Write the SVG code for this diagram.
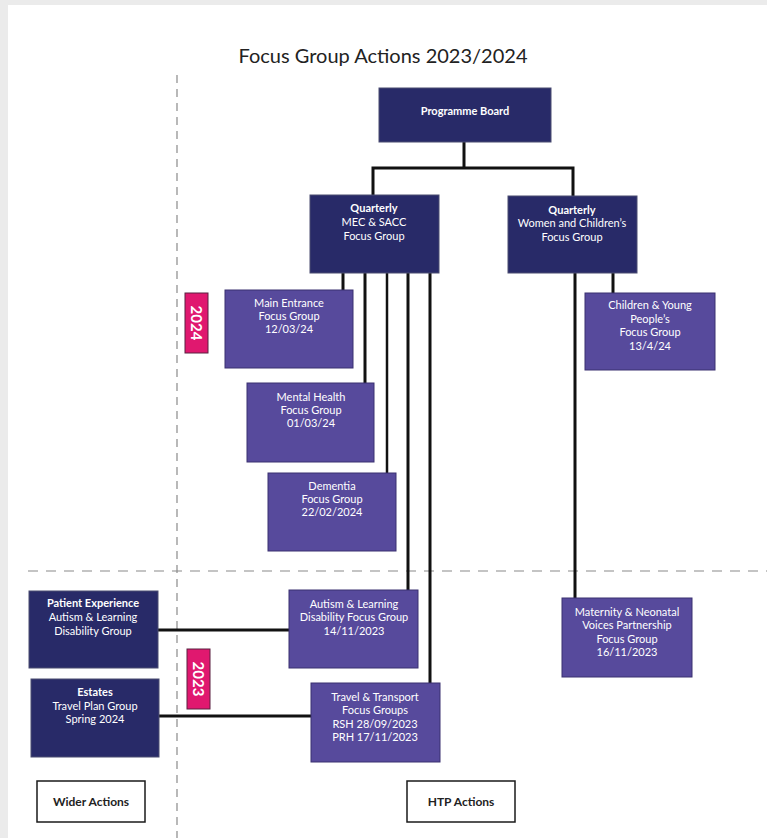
<svg xmlns="http://www.w3.org/2000/svg" width="767" height="838" viewBox="0 0 767 838">
<style>
.bg{fill:#ebebeb}
.page{fill:#ffffff}
.dark{fill:#282a68;stroke:#4a4c70;stroke-width:1}
.purple{fill:#574a9c;stroke:#3a3170;stroke-width:1}
.pink{fill:#e0186f;stroke:#5a2040;stroke-width:1}
.legend{fill:#ffffff;stroke:#1a1a1a;stroke-width:1.5}
.t{font-family:Lato,"Noto Sans","Liberation Sans",sans-serif;font-size:11px;fill:#ffffff;text-anchor:middle}
.b{font-weight:bold}
.yr{font-family:Lato,"Noto Sans","Liberation Sans",sans-serif;font-size:15px;font-weight:bold;fill:#ffffff;text-anchor:middle;dominant-baseline:central}
.lg{font-family:Lato,"Noto Sans","Liberation Sans",sans-serif;font-size:12px;font-weight:bold;fill:#222222;text-anchor:middle}
.title{font-family:Lato,"Noto Sans","Liberation Sans",sans-serif;font-size:20px;fill:#222222;text-anchor:middle}
.dash{stroke:#8a8a8a;stroke-width:1.2;fill:none}
.conn line,.conn path{stroke:#111111;stroke-width:3;fill:none}
</style>
<rect class="bg" x="0" y="0" width="767" height="838"/>
<rect class="page" x="8" y="5" width="759" height="833"/>
<text class="title" x="383" y="63">Focus Group Actions 2023/2024</text>
<g id="dividers">
<line class="dash" x1="177" y1="75" x2="177" y2="838" stroke-dasharray="8,6"/>
<line class="dash" x1="28" y1="571" x2="767" y2="571" stroke-dasharray="10,8"/>
</g>
<g id="connectors" class="conn">
<line x1="464" y1="142" x2="464" y2="168"/>
<path d="M373,195 V168 H573 V196"/>
<line x1="343" y1="273" x2="343" y2="290"/>
<line x1="365" y1="273" x2="365" y2="383"/>
<line x1="387" y1="273" x2="387" y2="473" style="stroke-width:2.5"/>
<line x1="408" y1="273" x2="408" y2="590"/>
<line x1="430" y1="273" x2="430" y2="683"/>
<line x1="613" y1="273" x2="613" y2="293"/>
<line x1="575" y1="273" x2="575" y2="598"/>
<line x1="158" y1="630" x2="289" y2="630"/>
<line x1="159" y1="716" x2="311" y2="716"/>
</g>
<g id="programme-board">
<rect class="dark" x="379" y="88" width="172" height="54"/>
<text class="t b" x="465" y="115">Programme Board</text>
</g>
<g id="mec-sacc">
<rect class="dark" x="310" y="195" width="129" height="78"/>
<text class="t b" x="374" y="212">Quarterly</text>
<text class="t" x="374" y="226">MEC &amp; SACC</text>
<text class="t" x="374" y="240">Focus Group</text>
</g>
<g id="women-children">
<rect class="dark" x="508" y="196" width="129" height="77"/>
<text class="t b" x="572" y="214">Quarterly</text>
<text class="t" x="572" y="227">Women and Children’s</text>
<text class="t" x="572" y="241">Focus Group</text>
</g>
<g id="main-entrance">
<rect class="purple" x="225" y="290" width="128" height="78"/>
<text class="t" x="289" y="307">Main Entrance</text>
<text class="t" x="289" y="320">Focus Group</text>
<text class="t" x="289" y="333">12/03/24</text>
</g>
<g id="mental-health">
<rect class="purple" x="247" y="383" width="127" height="79"/>
<text class="t" x="311" y="401">Mental Health</text>
<text class="t" x="311" y="414">Focus Group</text>
<text class="t" x="311" y="427">01/03/24</text>
</g>
<g id="dementia">
<rect class="purple" x="268" y="473" width="128" height="78"/>
<text class="t" x="332" y="490">Dementia</text>
<text class="t" x="332" y="503">Focus Group</text>
<text class="t" x="332" y="516">22/02/2024</text>
</g>
<g id="children-young">
<rect class="purple" x="585" y="293" width="130" height="77"/>
<text class="t" x="650" y="309">Children &amp; Young</text>
<text class="t" x="650" y="323">People’s</text>
<text class="t" x="650" y="336">Focus Group</text>
<text class="t" x="650" y="350">13/4/24</text>
</g>
<g id="autism-learning">
<rect class="purple" x="289" y="590" width="129" height="78"/>
<text class="t" x="354" y="608">Autism &amp; Learning</text>
<text class="t" x="354" y="621">Disability Focus Group</text>
<text class="t" x="354" y="635">14/11/2023</text>
</g>
<g id="travel-transport">
<rect class="purple" x="311" y="683" width="129" height="79"/>
<text class="t" x="375" y="701">Travel &amp; Transport</text>
<text class="t" x="375" y="714">Focus Groups</text>
<text class="t" x="375" y="728">RSH 28/09/2023</text>
<text class="t" x="375" y="741">PRH 17/11/2023</text>
</g>
<g id="maternity">
<rect class="purple" x="562" y="598" width="130" height="79"/>
<text class="t" x="627" y="616">Maternity &amp; Neonatal</text>
<text class="t" x="627" y="629">Voices Partnership</text>
<text class="t" x="627" y="643">Focus Group</text>
<text class="t" x="627" y="656">16/11/2023</text>
</g>
<g id="patient-experience">
<rect class="dark" x="29" y="591" width="129" height="77"/>
<text class="t b" x="93" y="607">Patient Experience</text>
<text class="t" x="93" y="621">Autism &amp; Learning</text>
<text class="t" x="93" y="635">Disability Group</text>
</g>
<g id="estates">
<rect class="dark" x="31" y="679" width="128" height="78"/>
<text class="t b" x="95" y="696">Estates</text>
<text class="t" x="95" y="710">Travel Plan Group</text>
<text class="t" x="95" y="723">Spring 2024</text>
</g>
<g id="year-2024">
<rect class="pink" x="185" y="293" width="23" height="60"/>
<text class="yr" transform="translate(196.5,323) rotate(90)">2024</text>
</g>
<g id="year-2023">
<rect class="pink" x="187" y="649" width="23" height="60"/>
<text class="yr" transform="translate(198.5,679) rotate(90)">2023</text>
</g>
<g id="wider-actions">
<rect class="legend" x="37" y="781" width="108" height="41"/>
<text class="lg" x="91" y="806">Wider Actions</text>
</g>
<g id="htp-actions">
<rect class="legend" x="407" y="781" width="108" height="41"/>
<text class="lg" x="461" y="806">HTP Actions</text>
</g>
</svg>
